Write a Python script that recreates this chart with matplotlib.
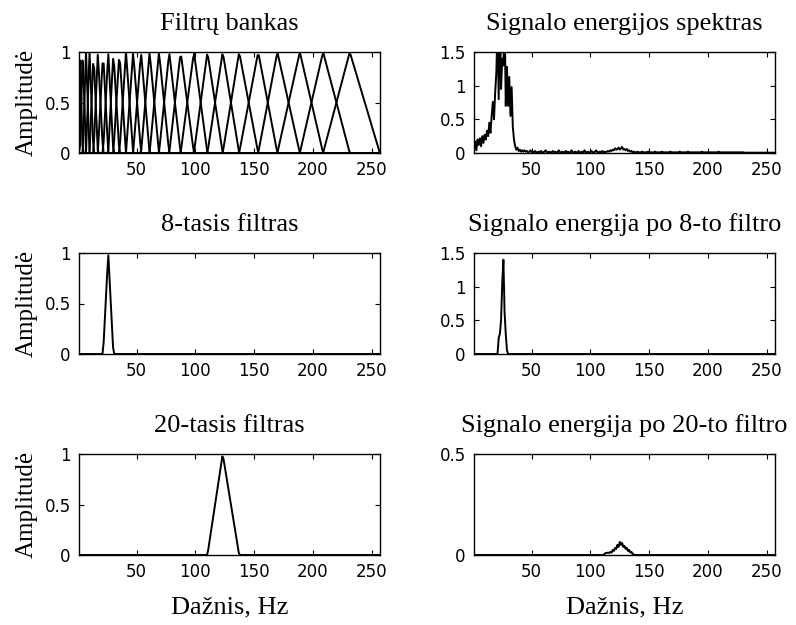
#!/usr/bin/env python3
"""
Mel filter bank and signal energy spectrum - six panel figure
"""

import numpy as np
import matplotlib
matplotlib.use('Agg')
import matplotlib.pyplot as plt

# Filter edges / centres (FFT bin).
# filter i (1..26) -> lo = edges[i-1], centre = edges[i], hi = edges[i+1]
edges = [1, 1.8, 4.2, 7.0, 10.0, 13.4, 17.1, 21.5, 25.9, 30.3,
         35.4, 41.0, 47.1, 53.8, 61.1, 69.1, 77.8, 87.5, 98.8, 110.3,
         123.3, 137.3, 153.5, 169.8, 188.9, 208.7, 231.4, 257]

# Signal energy spectrum, bins 1..257
spectrum = [
    0.05, 0.17, 0.04, 0.20, 0.12, 0.22, 0.10, 0.25, 0.15, 0.27,
    0.20, 0.33, 0.25, 0.45, 0.30, 0.55, 0.76, 0.50, 0.90, 1.20,
    1.90, 0.80, 2.30, 0.95, 1.40, 1.30, 2.10, 0.70, 1.28, 0.70,
    1.13, 0.55, 0.98, 0.39, 0.20, 0.10, 0.05, 0.08, 0.03, 0.05,
    0.02, 0.04, 0.02, 0.04, 0.02, 0.03, 0.01, 0.02, 0.04, 0.01,
    0.02, 0.01, 0.03, 0.01, 0.01, 0.02, 0.01, 0.03, 0.01, 0.01,
    0.02, 0.04, 0.01, 0.01, 0.02, 0.01, 0.01, 0.03, 0.01, 0.02,
    0.01, 0.01, 0.04, 0.01, 0.01, 0.02, 0.01, 0.01, 0.03, 0.01,
    0.02, 0.01, 0.01, 0.04, 0.01, 0.01, 0.02, 0.01, 0.01, 0.03,
    0.01, 0.01, 0.02, 0.01, 0.04, 0.01, 0.01, 0.02, 0.01, 0.01,
    0.03, 0.01, 0.01, 0.02, 0.04, 0.01, 0.01, 0.02, 0.01, 0.03,
    0.01, 0.02, 0.01, 0.02, 0.03, 0.02, 0.04, 0.03, 0.05, 0.04,
    0.07, 0.05, 0.06, 0.08, 0.05, 0.07, 0.09, 0.05, 0.06, 0.04,
    0.06, 0.03, 0.04, 0.02, 0.03, 0.01, 0.02, 0.01, 0.01, 0.02,
    0.01, 0.01, 0.01, 0.02, 0.01, 0.01, 0.01, 0.01, 0.02, 0.01,
    0.01, 0.01, 0.01, 0.01, 0.02, 0.01, 0.01, 0.01, 0.01, 0.01,
    0.02, 0.01, 0.01, 0.01, 0.01, 0.01, 0.01, 0.02, 0.01, 0.01,
    0.01, 0.01, 0.01, 0.01, 0.01, 0.02, 0.01, 0.01, 0.01, 0.01,
    0.01, 0.01, 0.02, 0.01, 0.01, 0.01, 0.01, 0.01, 0.01, 0.01,
    0.01, 0.01, 0.01, 0.01, 0.02, 0.01, 0.01, 0.01, 0.01, 0.01,
    0.01, 0.01, 0.01, 0.01, 0.01, 0.01, 0.01, 0.01, 0.02, 0.01,
    0.01, 0.01, 0.01, 0.01, 0.01, 0.01, 0.01, 0.01, 0.01, 0.01,
    0.01, 0.01, 0.01, 0.01, 0.01, 0.01, 0.01, 0.01, 0.01, 0.01,
    0.005, 0.005, 0.005, 0.005, 0.005, 0.005, 0.005, 0.005, 0.005, 0.005,
    0.005, 0.005, 0.005, 0.005, 0.005, 0.005, 0.005, 0.005, 0.005, 0.005,
    0.005, 0.005, 0.005, 0.005, 0.005, 0.005, 0.005,
]

# Energy after the 8th filter (non-zero bins only)
f8_bins = [21, 22, 23, 24, 25, 26, 27, 28, 29, 30]
f8_vals = [0.0, 0.24, 0.30, 0.50, 1.05, 1.40, 0.62, 0.30, 0.06, 0.0]

# Energy after the 20th filter (non-zero bins only)
f20_bins = list(range(111, 139))
f20_vals = [0.0, 0.005, 0.01, 0.01, 0.012, 0.01, 0.015, 0.012, 0.025, 0.02,
            0.035, 0.03, 0.05, 0.04, 0.065, 0.05, 0.06, 0.04, 0.045, 0.03,
            0.035, 0.02, 0.025, 0.012, 0.015, 0.005, 0.003, 0.0]

bins = np.arange(1, 258)


def triangle(lo, c, hi):
    w = np.zeros(len(bins))
    up = (bins >= lo) & (bins <= c)
    dn = (bins > c) & (bins <= hi)
    w[up] = (bins[up] - lo) / (c - lo)
    w[dn] = (hi - bins[dn]) / (hi - c)
    return w


bank = np.array([triangle(edges[i - 1], edges[i], edges[i + 1])
                 for i in range(1, len(edges) - 1)])

energy8 = np.zeros(len(bins))
energy8[np.array(f8_bins) - 1] = f8_vals
energy20 = np.zeros(len(bins))
energy20[np.array(f20_bins) - 1] = f20_vals

serif = 'Liberation Serif'
plt.rcParams['font.family'] = 'DejaVu Sans'

fig = plt.figure(figsize=(7.96, 6.25), dpi=100)

L, R, W, H = 0.0992, 0.5955, 0.378, 0.1616
rows = [0.7552, 0.4336, 0.112]
LW = 1.4


def style(ax, ylim, yticks, yticklabels, title, ylabel=None, xlabel=None):
    ax.set_xlim(1, 257)
    ax.set_ylim(*ylim)
    ax.set_xticks([50, 100, 150, 200, 250])
    ax.set_yticks(yticks)
    ax.set_yticklabels(yticklabels)
    ax.tick_params(direction='in', length=3.5, width=0.8, top=True, right=True,
                   labelsize=12, pad=6, colors='black')
    for sp in ax.spines.values():
        sp.set_linewidth(1.0)
    ax.set_title(title, fontsize=19, family=serif, pad=16)
    if ylabel:
        ax.set_ylabel(ylabel, fontsize=18, family=serif, labelpad=5)
    if xlabel:
        ax.set_xlabel(xlabel, fontsize=19, family=serif, labelpad=11)


ylab = 'Amplitudė'
xlab = 'Dažnis, Hz'

# Filter bank
ax = fig.add_axes([L, rows[0], W, H])
ax.plot(bins, bank.T, color='black', linewidth=LW)
style(ax, (0, 1), [0, 0.5, 1], ['0', '0.5', '1'], 'Filtrų bankas', ylab)

# Spectrum
ax = fig.add_axes([R, rows[0], W, H])
ax.plot(bins, spectrum, color='black', linewidth=LW)
style(ax, (0, 1.5), [0, 0.5, 1, 1.5], ['0', '0.5', '1', '1.5'],
      'Signalo energijos spektras')

# 8th filter
ax = fig.add_axes([L, rows[1], W, H])
ax.plot(bins, bank[7], color='black', linewidth=LW)
style(ax, (0, 1), [0, 0.5, 1], ['0', '0.5', '1'], '8-tasis filtras', ylab)

# Energy after 8th filter
ax = fig.add_axes([R, rows[1], W, H])
ax.plot(bins, energy8, color='black', linewidth=LW)
style(ax, (0, 1.5), [0, 0.5, 1, 1.5], ['0', '0.5', '1', '1.5'],
      'Signalo energija po 8-to filtro')

# 20th filter
ax = fig.add_axes([L, rows[2], W, H])
ax.plot(bins, bank[19], color='black', linewidth=LW)
style(ax, (0, 1), [0, 0.5, 1], ['0', '0.5', '1'], '20-tasis filtras', ylab, xlab)

# Energy after 20th filter
ax = fig.add_axes([R, rows[2], W, H])
ax.plot(bins, energy20, color='black', linewidth=LW)
style(ax, (0, 0.5), [0, 0.5], ['0', '0.5'],
      'Signalo energija po 20-to filtro', None, xlab)

fig.savefig('out.png', dpi=100, facecolor='white')
print("Saved: out.png")
